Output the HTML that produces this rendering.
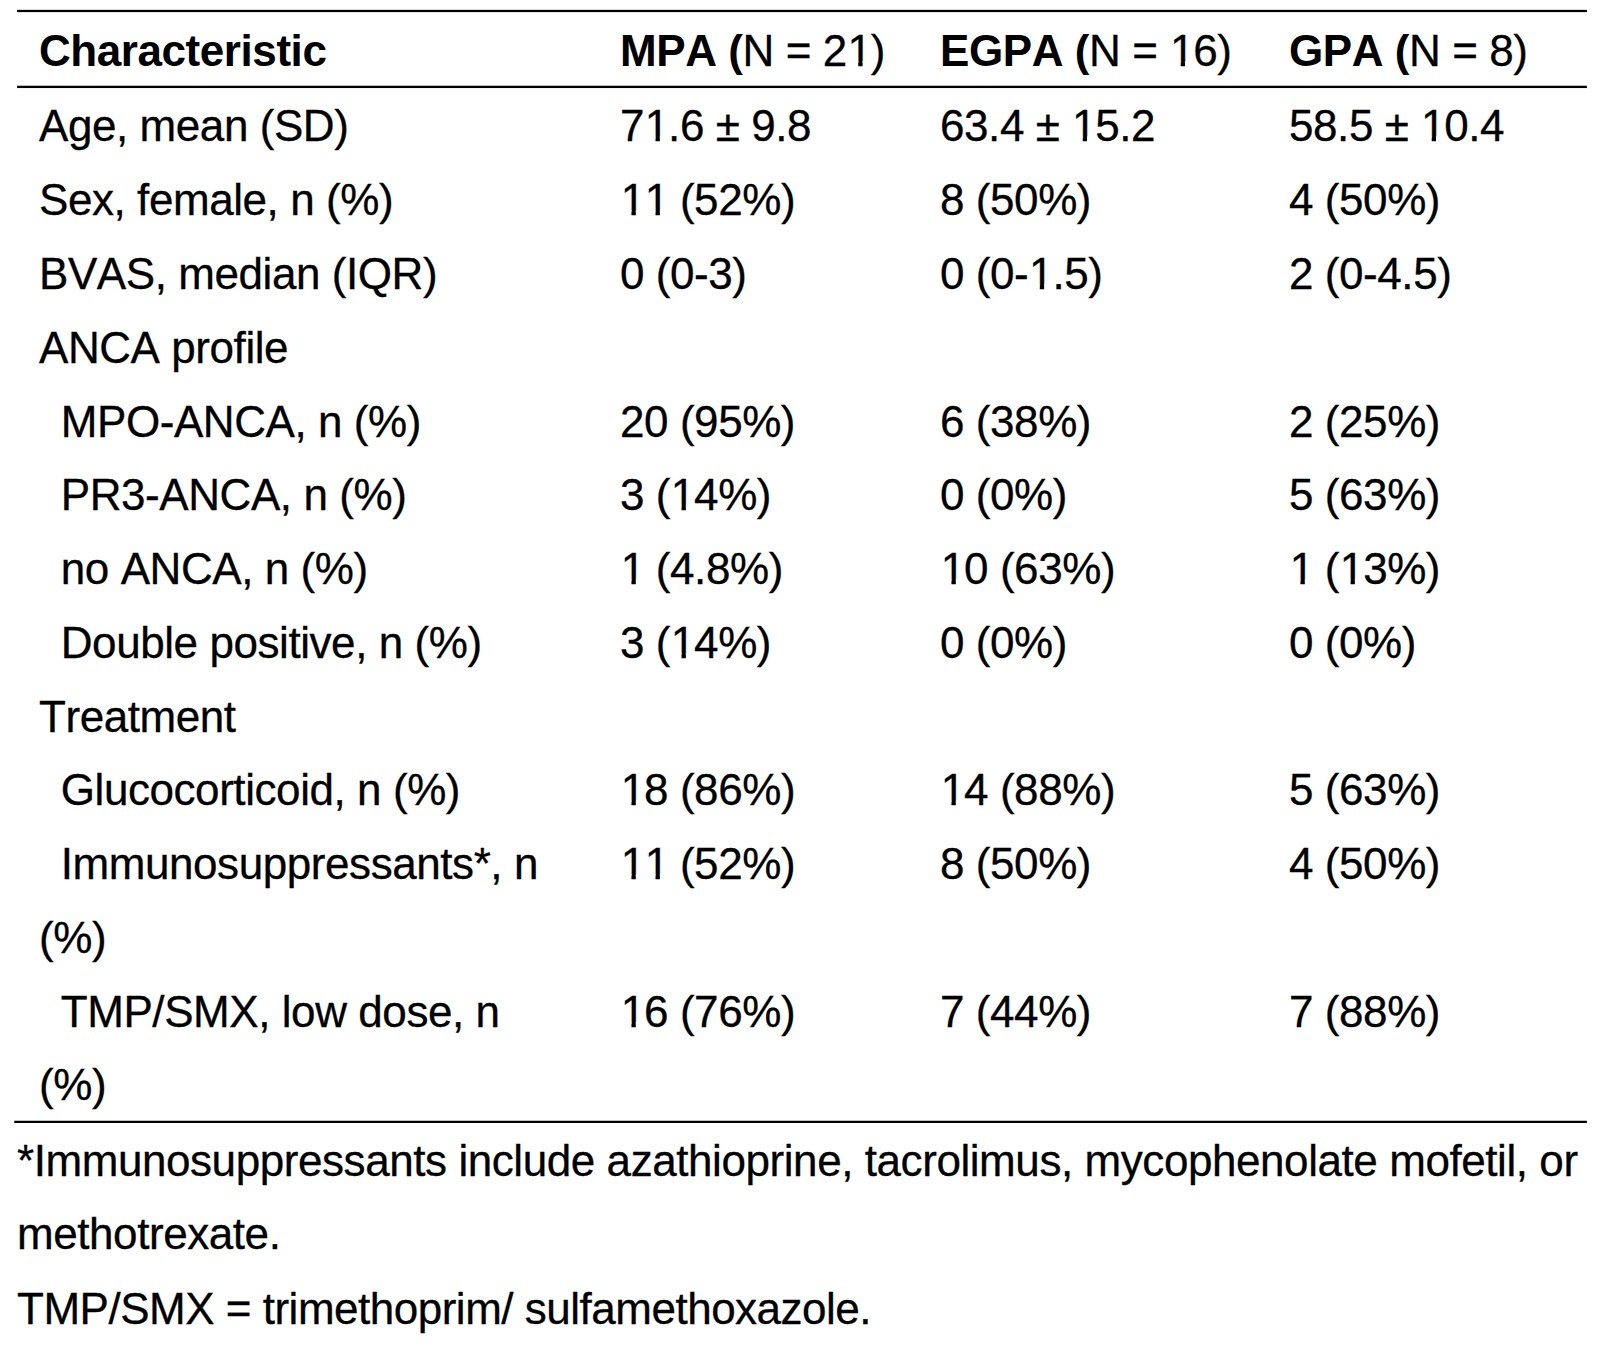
<!DOCTYPE html>
<html><head><meta charset="utf-8">
<style>
html,body{margin:0;padding:0;background:#fff;}
body{width:1602px;height:1360px;position:relative;overflow:hidden;font-family:"Liberation Sans",Arial,sans-serif;font-size:44px;color:#000;}
.t{font-kerning:none;position:absolute;white-space:pre;line-height:50px;height:50px;}
b{font-weight:bold;-webkit-text-stroke:0;}
.o{display:inline-block;position:relative;left:0.7px;clip-path:polygon(0 0,100% 0,100% 35.6px,15.1px 35.6px,15.1px 100%,10.8px 100%,10.8px 35.6px,0 35.6px);}
.t{-webkit-text-stroke:0.3px #000;}
.t{letter-spacing:-0.43px;}
.c1{left:39px;}.c1i{left:60.75px;}.c2{left:620px;}.c3{left:940px;}.c4{left:1289px;}.f{left:17px;}
</style></head><body>
<svg width="1602" height="1360" style="position:absolute;left:0;top:0">
<rect x="17.1" y="9.85" width="1569.8" height="2.25" fill="#000"/>
<rect x="17.1" y="85.75" width="1569.8" height="2.3" fill="#000"/>
<rect x="14.25" y="1120.75" width="1572.65" height="2.25" fill="#000"/>
</svg>

<div class="t c1" style="top:25.7px"><b>Characteristic</b></div>
<div class="t c2" style="top:25.7px"><b>MPA (</b>N = 2<span class="o">1</span>)</div>
<div class="t c3" style="top:25.7px"><b>EGPA (</b>N = <span class="o">1</span>6)</div>
<div class="t c4" style="top:25.7px"><b>GPA (</b>N = 8)</div>
<div class="t c1" style="top:101px">Age, mean (SD)</div>
<div class="t c2" style="top:101px">7<span class="o">1</span>.6 ± 9.8</div>
<div class="t c3" style="top:101px">63.4 ± <span class="o">1</span>5.2</div>
<div class="t c4" style="top:101px">58.5 ± <span class="o">1</span>0.4</div>
<div class="t c1" style="top:175.25px">Sex, female, n (%)</div>
<div class="t c2" style="top:175.25px"><span class="o">1</span><span class="o">1</span> (52%)</div>
<div class="t c3" style="top:175.25px">8 (50%)</div>
<div class="t c4" style="top:175.25px">4 (50%)</div>
<div class="t c1" style="top:249px">BVAS, median (IQR)</div>
<div class="t c2" style="top:249px">0 (0-3)</div>
<div class="t c3" style="top:249px">0 (0-<span class="o">1</span>.5)</div>
<div class="t c4" style="top:249px">2 (0-4.5)</div>
<div class="t c1" style="top:322.75px">ANCA profile</div>
<div class="t c1i" style="top:396.5px">MPO-ANCA, n (%)</div>
<div class="t c2" style="top:396.5px">20 (95%)</div>
<div class="t c3" style="top:396.5px">6 (38%)</div>
<div class="t c4" style="top:396.5px">2 (25%)</div>
<div class="t c1i" style="top:470.25px">PR3-ANCA, n (%)</div>
<div class="t c2" style="top:470.25px">3 (<span class="o">1</span>4%)</div>
<div class="t c3" style="top:470.25px">0 (0%)</div>
<div class="t c4" style="top:470.25px">5 (63%)</div>
<div class="t c1i" style="top:544px">no ANCA, n (%)</div>
<div class="t c2" style="top:544px"><span class="o">1</span> (4.8%)</div>
<div class="t c3" style="top:544px"><span class="o">1</span>0 (63%)</div>
<div class="t c4" style="top:544px"><span class="o">1</span> (<span class="o">1</span>3%)</div>
<div class="t c1i" style="top:617.75px">Double positive, n (%)</div>
<div class="t c2" style="top:617.75px">3 (<span class="o">1</span>4%)</div>
<div class="t c3" style="top:617.75px">0 (0%)</div>
<div class="t c4" style="top:617.75px">0 (0%)</div>
<div class="t c1" style="top:691.5px">Treatment</div>
<div class="t c1i" style="top:765.25px">Glucocorticoid, n (%)</div>
<div class="t c2" style="top:765.25px"><span class="o">1</span>8 (86%)</div>
<div class="t c3" style="top:765.25px"><span class="o">1</span>4 (88%)</div>
<div class="t c4" style="top:765.25px">5 (63%)</div>
<div class="t c1i" style="top:839px">Immunosuppressants*, n</div>
<div class="t c2" style="top:839px"><span class="o">1</span><span class="o">1</span> (52%)</div>
<div class="t c3" style="top:839px">8 (50%)</div>
<div class="t c4" style="top:839px">4 (50%)</div>
<div class="t c1" style="top:912.75px">(%)</div>
<div class="t c1i" style="top:986.5px">TMP/SMX, low dose, n</div>
<div class="t c2" style="top:986.5px"><span class="o">1</span>6 (76%)</div>
<div class="t c3" style="top:986.5px">7 (44%)</div>
<div class="t c4" style="top:986.5px">7 (88%)</div>
<div class="t c1" style="top:1060.25px">(%)</div>
<div class="t f" style="top:1136.1px">*Immunosuppressants include azathioprine, tacrolimus, mycophenolate mofetil, or</div>
<div class="t f" style="top:1209.25px">methotrexate.</div>
<div class="t f" style="top:1283.6px"><span style="letter-spacing:-0.49px">TMP/SMX = trimethoprim/ sulfamethoxazole.</span></div>
</body></html>
